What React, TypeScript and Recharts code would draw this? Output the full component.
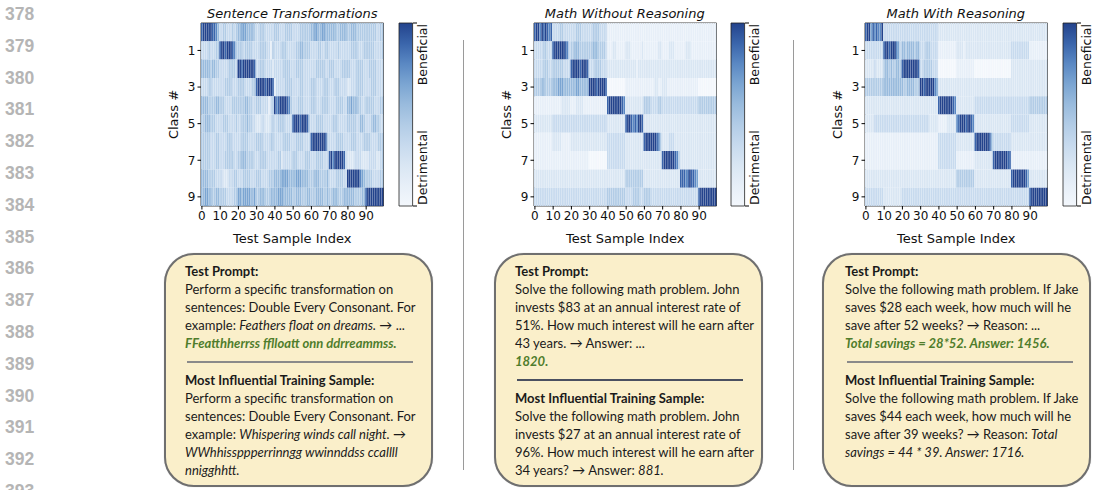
import React from 'react';
import { BarChart, Bar, Cell, XAxis, YAxis, ReferenceArea } from 'recharts';

// heatmap intensity levels 0 (lightest) .. 9 (darkest), one string per class row, 100 test samples
const sentenceRows = [
  '8999998875 3344333434 5566655554 3344433333 4443334444 3333444444 5566556655 5555445555 4455544444 4444443344',
  '3333433344 8998999874 4443444433 3344443314 3333444333 3344554444 3333443344 3333343333 3344443334 4444433334',
  '5555545544 3333344443 9989999998 3344433332 3333344443 3344443333 3334444433 4443333444 4433344443 3344443333',
  '3333443333 3334444333 4444333344 8999989998 1333334444 3333443333 4443333444 3334443333 2233344443 3334443333',
  '5555444455 4443333444 4444554433 4443333134 9789999874 3334443333 4443334444 3333444433 5565554433 4444433344',
  '4455544433 3344433334 3344454433 2223322234 3344443333 8999899984 3334444333 3344433333 4444433554 3334554433',
  '4444433344 3333444333 3344443333 4444333344 3333344443 3344443333 8999999984 3333444433 3344433334 4443333444',
  '4444433344 3334444433 4455544443 3344443333 3344233333 4443333444 3334444333 8979999983 2222333322 2233332234',
  '5555444433 3322233344 3334444333 4443333444 5555666655 5566655554 4455544445 3333444433 9999999765 4444333344',
  '5566554455 4444333344 6656666556 4455544455 5566655555 4455544455 4445555445 4455544455 5555444455 8999999999',
];

const mathNoReasonRows = [
  '8997989878 3333443333 3334443333 3344443333 1111111111 1111111111 1111111111 1111111111 1111111111 1111111111',
  '3333344333 8999999873 4455544444 4455544443 1112211111 2221111112 1111111122 1111222111 1112221111 1111111111',
  '3333344433 4444443333 8999989998 3334444333 2222222222 2222221222 2222222222 2222222222 2222222222 2222222222',
  '4444554444 5556665555 5556655555 9999899998 0000000000 1111111111 1111112211 2221111111 1111111111 0000000000',
  '1111111111 1111122222 1112222111 1111111111 8999999987 2222222222 4444333344 3333333333 3333333333 4444444444',
  '2222222222 3333333333 3333333333 3333333333 2222222222 8998787998 2222222222 2222222222 2222222222 2222222222',
  '1111111111 2222211111 2222222222 2222222222 3333333333 2222222222 8999999874 2222333222 2222222222 2222222222',
  '1111111111 1111111111 1111111111 0000000000 3333333333 2222222222 2222222222 8999999874 2222222222 2222222222',
  '2222222222 2222222222 2222222222 2222222222 2222222222 4444444444 2222222222 2222222222 8887898876 2222222222',
  '3333333333 3333333333 3333333333 3333333333 4444444444 3333444433 4444333333 3333333333 3333333333 8999999999',
];

const mathReasonRows = [
  '8996878779 3333333333 3333333333 3333333333 2222222222 2222222222 2222222222 2222222222 2222222222 2222222222',
  '3333333333 8998999763 5545555455 3334443333 1111111111 2222122222 2222222222 2222222222 3333333333 1111111111',
  '2222232222 4554544554 8999999998 3344444333 0000000000 1111111111 0000000000 0000000000 2222222222 2222222222',
  '4444444444 5555555555 5445555444 9989999976 2222222222 2222222222 2222222222 2222222222 2222222222 2222222222',
  '2222222222 2222222222 2222222222 2222222222 8999999987 2222222222 3333333333 3333333333 3333333333 4444444444',
  '2222233333 3333333333 3333333333 3333322222 1111122222 7899989987 2222222222 2222222222 3333333333 2222222222',
  '1111111111 1111111111 1111111111 1111111111 3333333333 2222222222 8999999985 3333333333 2222222222 2222222222',
  '1111111111 1111111111 1111111111 1111111111 3333333333 1111111111 2222222222 8999999988 1111111111 1111111111',
  '2222222222 2222222222 2222222222 2222222222 2222222222 4444444444 2222222222 2222222222 8999999986 2222222222',
  '3333333333 2222222222 3333333333 3333333333 3333333333 3333333333 3333333333 3333333333 3333333333 8999999999',
];

const sampleTicks = [0, 10, 20, 30, 40, 50, 60, 70, 80, 90];
const classTicks = [1, 3, 5, 7, 9];
const colorbarLabels = ['Detrimental', 'Beneficial'];
const panelTitles = ['Sentence Transformations', 'Math Without Reasoning', 'Math With Reasoning'];
const lineNumbers = [378, 379, 380, 381, 382, 383, 384, 385, 386, 387, 388, 389, 390, 391, 392, 393];

type Seg = [string, 'n' | 'b' | 'i' | 'g'];
type Line = Seg[] | 'hr';

const box1: Line[] = [
  [['Test Prompt:', 'b']],
  [['Perform a specific transformation on', 'n']],
  [['sentences: Double Every Consonant. For', 'n']],
  [['example: ', 'n'], ['Feathers float on dreams.', 'i'], [' → ...', 'n']],
  [['FFeatthherrss fflloatt onn ddrreammss.', 'g']],
  'hr',
  [['Most Influential Training Sample:', 'b']],
  [['Perform a specific transformation on', 'n']],
  [['sentences: Double Every Consonant. For', 'n']],
  [['example: ', 'n'], ['Whispering winds call night.', 'i'], [' →', 'n']],
  [['WWhhissppperrinngg wwinnddss ccallll', 'i']],
  [['nnigghhtt.', 'i']],
];

const box2: Line[] = [
  [['Test Prompt:', 'b']],
  [['Solve the following math problem. John', 'n']],
  [['invests $83 at an annual interest rate of', 'n']],
  [['51%. How much interest will he earn after', 'n']],
  [['43 years. → Answer: ...', 'n']],
  [['1820.', 'g']],
  'hr',
  [['Most Influential Training Sample:', 'b']],
  [['Solve the following math problem. John', 'n']],
  [['invests $27 at an annual interest rate of', 'n']],
  [['96%. How much interest will he earn after', 'n']],
  [['34 years? → Answer: ', 'n'], ['881.', 'i']],
];

const box3: Line[] = [
  [['Test Prompt:', 'b']],
  [['Solve the following math problem. If Jake', 'n']],
  [['saves $28 each week, how much will he', 'n']],
  [['save after 52 weeks? → Reason: ...', 'n']],
  [['Total savings = 28*52. Answer: 1456.', 'g']],
  'hr',
  [['Most Influential Training Sample:', 'b']],
  [['Solve the following math problem. If Jake', 'n']],
  [['saves $44 each week, how much will he', 'n']],
  [['save after 39 weeks? → Reason: ', 'n'], ['Total', 'i']],
  [['savings = 44 * 39. Answer: 1716.', 'i']],
];

const PALETTE = [
  '#f3f7fc', '#e7eff8', '#d9e6f3', '#c7daee', '#b2cce6',
  '#99bbdd', '#7ba5d2', '#5a88c3', '#3a65ab', '#23438c',
];

const MPL_FONT = '"DejaVu Sans", sans-serif';
const BOX_FONT = 'Lato, "Open Sans", sans-serif';
const PLOT_W = 182.5;
const sampleIndex = Array.from({ length: 100 }, (_, i) => i);

const Heatmap = ({ rows, plotLeft, title }: { rows: string[]; plotLeft: number; title: string }) => {
  const grid = rows.map((r) => r.replace(/ /g, '').split('').map(Number));
  const data = sampleIndex.map((i) => {
    const d: any = { idx: i };
    grid.forEach((_, k) => (d['c' + k] = 1));
    return d;
  });
  return (
    <>
      <div
        style={{
          position: 'absolute', left: plotLeft - 20, top: 5, width: PLOT_W + 40, textAlign: 'center',
          fontFamily: MPL_FONT, fontStyle: 'italic', fontSize: 13, lineHeight: '17px', color: '#111',
        }}
      >
        {title}
      </div>
      <div style={{ position: 'absolute', left: plotLeft - 51, top: 0 }}>
        <BarChart width={240} height={250} data={data} margin={{ top: 23, right: 6.5, left: 21, bottom: 6 }}
          barCategoryGap={0} barGap={0}>
          <XAxis dataKey="idx" ticks={sampleTicks} interval={0} height={38} tickSize={3.5}
            axisLine={false} tickLine={{ stroke: '#000' }}
            tick={{ fontSize: 12, fill: '#111', fontFamily: MPL_FONT }}
            label={{ value: 'Test Sample Index', position: 'insideBottom', offset: 1,
              style: { fontSize: 13, fill: '#111', fontFamily: MPL_FONT } }} />
          <YAxis type="number" domain={[0, 10]} reversed allowDataOverflow width={30}
            ticks={classTicks.map((c) => c + 0.5)} tickFormatter={(v) => String(Math.floor(v))}
            tickSize={3.5} axisLine={false} tickLine={{ stroke: '#000' }}
            tick={{ fontSize: 12, fill: '#111', fontFamily: MPL_FONT }}
            label={{ value: 'Class #', angle: -90, position: 'insideLeft', offset: 2,
              style: { fontSize: 13, fill: '#111', fontFamily: MPL_FONT, textAnchor: 'middle' } }} />
          {grid.map((row, k) => (
            <Bar key={k} dataKey={'c' + k} stackId="h" barSize={PLOT_W / 100 + 0.4} isAnimationActive={false}>
              {row.map((v, i) => (
                <Cell key={i} fill={PALETTE[v]} />
              ))}
            </Bar>
          ))}
          <ReferenceArea y1={0} y2={10} fill="none" stroke="#111" strokeWidth={0.8} ifOverflow="visible" />
        </BarChart>
      </div>
    </>
  );
};

const CbTick = (props: any) => {
  const { x, y, payload } = props;
  const top = payload.value === 1;
  const cx = x + 3;
  const cy = y + (top ? 1 : -1);
  return (
    <text x={cx} y={cy} transform={`rotate(-90 ${cx} ${cy})`}
      textAnchor={top ? 'end' : 'start'} dominantBaseline="central" fontSize={12.5} fill="#111" fontFamily={MPL_FONT}>
      {colorbarLabels[top ? 1 : 0]}
    </text>
  );
};

const Colorbar = ({ left, gid }: { left: number; gid: string }) => (
  <div style={{ position: 'absolute', left: left - 6, top: 0 }}>
    <BarChart width={60} height={250} data={[{ name: 'scale', v: 1 }]}
      margin={{ top: 23, right: 0, left: 6, bottom: 44 }} barCategoryGap={0}>
      <defs>
        <linearGradient id={gid} x1="0" y1="1" x2="0" y2="0">
          {PALETTE.map((c, i) => (
            <stop key={i} offset={i / (PALETTE.length - 1)} stopColor={c} />
          ))}
        </linearGradient>
      </defs>
      <XAxis dataKey="name" hide />
      <YAxis orientation="right" domain={[0, 1]} ticks={[0, 1]} width={40} axisLine={false}
        tickSize={4} tickLine={{ stroke: '#000' }} tick={<CbTick />} />
      <Bar dataKey="v" fill={`url(#${gid})`} stroke="#222" strokeWidth={0.8} barSize={13.6}
        isAnimationActive={false} />
    </BarChart>
  </div>
);

const segStyle = (t: Seg[1]): React.CSSProperties => {
  if (t === 'b') return { fontWeight: 700 };
  if (t === 'i') return { fontStyle: 'italic' };
  if (t === 'g') return { fontStyle: 'italic', fontWeight: 700, color: '#4f7d2c' };
  return {};
};

const PromptBox = ({ left, lines, textLeft, hrColor }: { left: number; lines: Line[]; textLeft: number; hrColor: string }) => (
  <div
    style={{
      position: 'absolute', left, top: 253, width: 269, height: 234, boxSizing: 'border-box',
      border: '2px solid #6f6f6f', borderRadius: 30, background: '#faefca',
      boxShadow: '0 0 1px rgba(0,0,0,0.3)',
    }}
  >
    <div style={{ position: 'absolute', left: textLeft - left - 2, top: 7, fontFamily: BOX_FONT,
      fontSize: 13, color: '#1a1a1a', whiteSpace: 'nowrap' }}>
      {lines.map((ln, i) =>
        ln === 'hr' ? (
          <div key={i} style={{ height: 19, position: 'relative' }}>
            <div style={{ position: 'absolute', left: 2, top: 9, width: 226, height: 1.5, background: hrColor }} />
          </div>
        ) : (
          <div key={i} style={{ height: 18, lineHeight: '18px' }}>
            {ln.map((s, j) => (
              <span key={j} style={segStyle(s[1])}>{s[0]}</span>
            ))}
          </div>
        )
      )}
    </div>
  </div>
);

export default function App() {
  return (
    <div style={{ position: 'absolute', left: 0, top: 0, width: 1093, height: 490, background: '#fff', overflow: 'hidden' }}>
      {lineNumbers.map((n, i) => (
        <div key={n} style={{ position: 'absolute', left: 5, top: 3 + i * 31.8, fontFamily: '"Liberation Sans", Arial, sans-serif',
          fontWeight: 700, fontSize: 17.5, lineHeight: '22px', color: '#b5b5b5' }}>
          {n}
        </div>
      ))}

      <Heatmap rows={sentenceRows} plotLeft={201} title={panelTitles[0]} />
      <Colorbar left={399} gid="cb1" />
      <Heatmap rows={mathNoReasonRows} plotLeft={533.5} title={panelTitles[1]} />
      <Colorbar left={731} gid="cb2" />
      <Heatmap rows={mathReasonRows} plotLeft={864.5} title={panelTitles[2]} />
      <Colorbar left={1063} gid="cb3" />

      <div style={{ position: 'absolute', left: 463, top: 40, width: 1, height: 430, background: '#9a9a9a' }} />
      <div style={{ position: 'absolute', left: 793, top: 40, width: 1, height: 430, background: '#9a9a9a' }} />

      <PromptBox left={164} lines={box1} textLeft={185} hrColor="#8a8a8a" />
      <PromptBox left={494} lines={box2} textLeft={515} hrColor="#4a5060" />
      <PromptBox left={822} lines={box3} textLeft={845} hrColor="#8a8a8a" />
    </div>
  );
}
